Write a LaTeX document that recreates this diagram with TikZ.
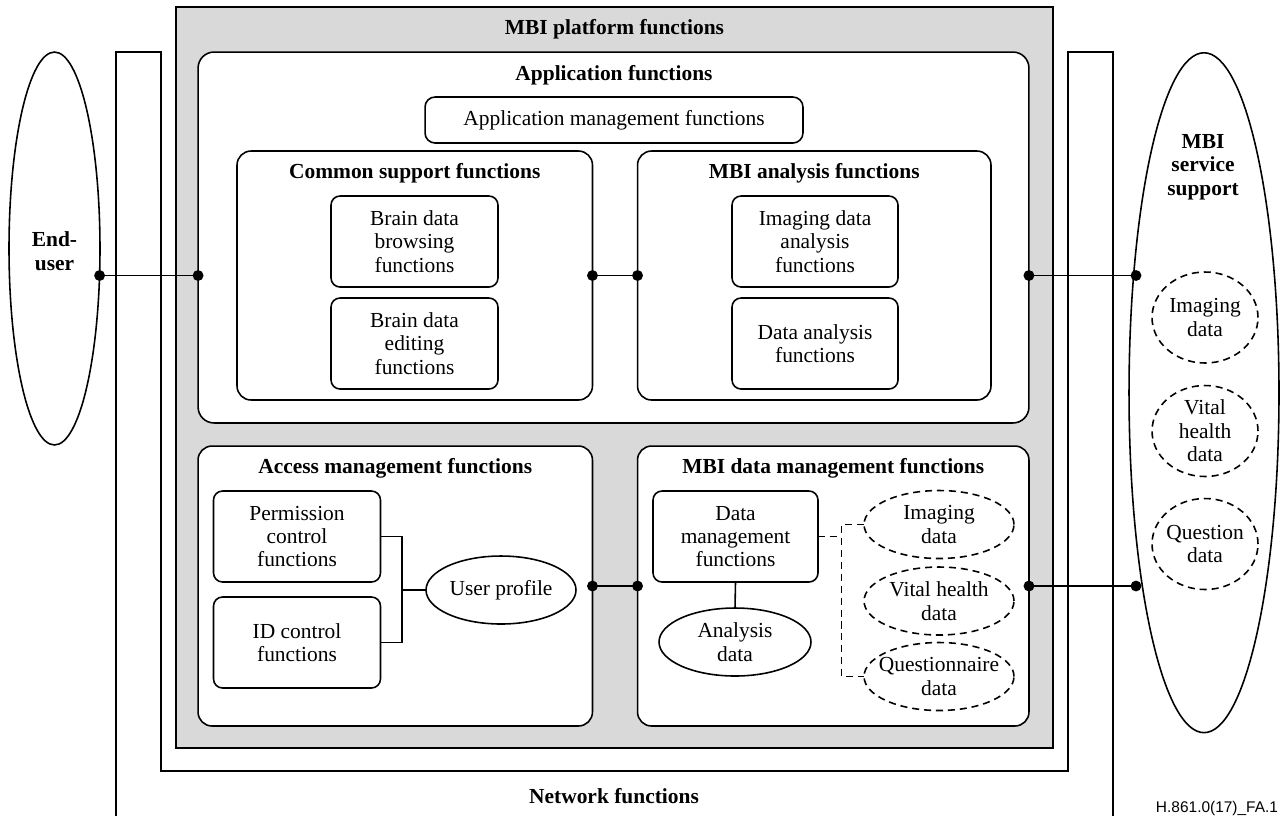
\documentclass[tikz,border=0pt]{standalone}
\usepackage{fontspec}
\setmainfont{Liberation Serif}
\newfontfamily\labelsans{Liberation Sans}
\usetikzlibrary{shapes.geometric}
\definecolor{platgray}{RGB}{217,217,217}
\begin{document}
\begin{tikzpicture}[x=0.02cm,y=-0.02cm,line width=0.9pt,
  every node/.style={font=\fontsize{12.2}{13.3}\selectfont,align=center,inner sep=0pt,outer sep=0pt},
  title/.style={font=\fontsize{12.2}{13.3}\selectfont\bfseries},
  bigbox/.style={draw,fill=white,rectangle,rounded corners=0.28cm},
  sbox/.style={draw,fill=white,rectangle,rounded corners=0.18cm,minimum width=3.34cm,minimum height=1.82cm},
  oval/.style={draw,fill=white,ellipse,minimum width=3cm,minimum height=1.36cm},
  dashes/.style={dash pattern=on 4pt off 2.8pt},
  doval/.style={oval,dashes},
  dcirc/.style={draw,fill=white,ellipse,dashes,minimum width=2.12cm,minimum height=1.82cm},
  link/.style={line width=0.9pt},
  dlink/.style={line width=0.9pt,dashes}]
\useasboundingbox (0,0) rectangle (1283,816);

% Network functions U-shaped frame
\draw[link] (116,816) -- (116,52) -- (161,52) -- (161,771) -- (1068,771) -- (1068,52) -- (1113,52) -- (1113,816);
\node[title] (tNet) at (614,796) {Network functions};

% MBI platform
\node[draw,fill=platgray,rectangle,line width=1.1pt,minimum width=17.54cm,minimum height=14.82cm] (plat) at (614.5,377.5) {};
\node[title] (tPlat) at (614.5,29) {MBI platform functions};

% Application functions
\node[bigbox,rounded corners=0.32cm,minimum width=16.62cm,minimum height=7.42cm] (app) at (613.5,237.5) {};
\node[title] (tApp) at (614,75) {Application functions};
\node[draw,fill=white,rectangle,rounded corners=0.2cm,minimum width=7.56cm,minimum height=0.92cm] (appm) at (614,120) {Application management functions};

\node[bigbox,minimum width=7.11cm,minimum height=4.98cm] (cs) at (414.75,275.5) {};
\node[title] (tCs) at (414.75,173) {Common support functions};
\node[sbox] (bdb) at (414.5,241.5) {Brain data\\browsing\\functions};
\node[sbox] (bde) at (414.5,343.5) {Brain data\\editing\\functions};

\node[bigbox,minimum width=7.07cm,minimum height=4.98cm] (ana) at (814.25,275.5) {};
\node[title] (tAna) at (814.25,173) {MBI analysis functions};
\node[sbox,minimum width=3.32cm] (ida) at (815,241.5) {Imaging data\\analysis\\functions};
\node[sbox,minimum width=3.32cm] (da) at (815,343.5) {Data analysis\\functions};

% Access management
\node[bigbox,minimum width=7.89cm,minimum height=5.6cm] (acc) at (395.25,586) {};
\node[title] (tAcc) at (395.25,468) {Access management functions};
\node[sbox] (perm) at (297,536.5) {Permission\\control\\functions};
\node[sbox] (idc) at (297,642.5) {ID control\\functions};
\node[oval] (up) at (501,590) {};
\node (upT) at (up.center) {User profile};

% MBI data management
\node[bigbox,minimum width=7.83cm,minimum height=5.6cm] (dm) at (833.25,586) {};
\node[title] (tDm) at (833.25,468) {MBI data management functions};
\node[sbox,minimum width=3.3cm] (dmf) at (735.5,536.5) {Data\\management\\functions};
\node[oval,minimum width=3.04cm] (ad) at (735,642) {};
\node (adT) at (ad.center) {Analysis\\data};
\node[doval] (imd) at (939,524.5) {};
\node (imdT) at (imd.center) {Imaging\\data};
\node[doval] (vhd) at (939,601) {};
\node (vhdT) at (vhd.center) {Vital health\\data};
\node[doval] (qd) at (939,676.5) {};
\node (qdT) at (qd.center) {Questionnaire\\data};

% End-user
\node[draw,fill=white,ellipse,minimum width=1.82cm,minimum height=7.86cm] (eu) at (54.5,248.5) {};
\node[title] (euT) at (54.5,251) {End-\\user};

% MBI service support
\node[draw,fill=white,ellipse,minimum width=3.0cm,minimum height=13.6cm] (mss) at (1204,392.7) {};
\node[title] (mssT) at (1203,167) {MBI\\service\\support};
\node[dcirc] (c1) at (1205,317.5) {};
\node (c1T) at (c1.center) {Imaging\\data};
\node[dcirc] (c2) at (1205,431) {};
\node (c2T) at (c2.center) {Vital\\health\\data};
\node[dcirc] (c3) at (1205,544) {};
\node (c3T) at (c3.center) {Question\\data};

% connector end points on the outer ellipses
\coordinate (euDot) at (99.6,275.5);
\coordinate (mssDot1) at (1136,275.5);
\coordinate (mssDot2) at (1136,586);
\coordinate (appR) at (app.east |- cs.east);
\coordinate (appL) at (app.west |- cs.east);

% solid connectors with dots
\draw[link] (euDot) -- (appL);
\draw[link] (cs.east) -- (ana.west);
\draw[link] (appR) -- (mssDot1);
\draw[link] (acc.east) -- (dm.west);
\draw[link] (dm.east) -- (mssDot2);
\foreach \p in {euDot,appL,cs.east,ana.west,appR,mssDot1,acc.east,dm.west,dm.east,mssDot2}
  \fill (\p) circle (3.1pt);

% access management bracket
\coordinate (brk) at (402,590);
\draw[link] (perm.east) -| (brk) |- (idc.east);
\draw[link] (brk) -- (up.west);

% data management
\draw[link] (dmf.south) -- (ad.north);
\coordinate (dbrk) at (841.5,536.5);
\draw[dlink] (dmf.east) -- (dbrk);
\draw[dlink] (imd.west) -| (dbrk) |- (qd.west);

% figure id
\node[font=\labelsans\fontsize{8.8}{10}\selectfont] (figid) at (1217,808) {H.861.0(17)\_FA.1};
\end{tikzpicture}
\end{document}
